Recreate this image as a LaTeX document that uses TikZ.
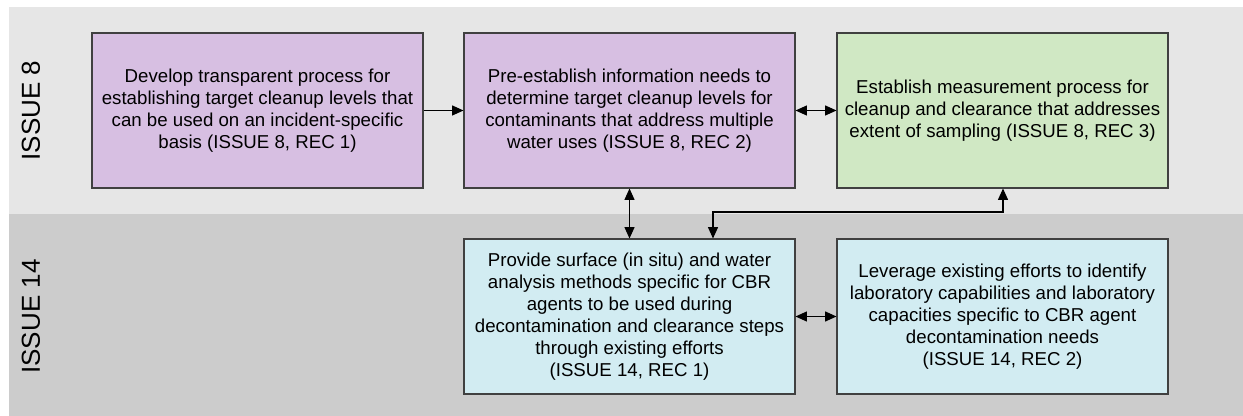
\documentclass[tikz,border=0pt]{standalone}
\usepackage{fontspec}
\setmainfont{Liberation Sans}
\usetikzlibrary{arrows.meta}
\definecolor{bandA}{RGB}{230,230,230}
\definecolor{bandB}{RGB}{204,204,204}
\definecolor{purp}{RGB}{215,191,226}
\definecolor{grn}{RGB}{208,232,196}
\definecolor{blu}{RGB}{210,236,242}
\definecolor{edge}{RGB}{64,64,64}
\tikzset{
  box/.style={draw=edge, line width=0.8pt, minimum width=248.25pt, minimum height=116.25pt,
    inner sep=0pt, align=center, font=\fontsize{14}{16.5}\selectfont},
  lane/.style={font=\fontsize{19.5}{22}\selectfont, rotate=90},
  tip/.tip={Triangle[length=8.5pt,width=7.5pt]},
  arr/.style={line width=0.8pt, -tip},
  darr/.style={line width=0.8pt, tip-tip}
}
\begin{document}
\begin{tikzpicture}[x=0.75pt,y=-0.75pt]
\useasboundingbox (0,0) rectangle (1243,416);
\fill[white] (0,0) rectangle (1243,416);
\fill[bandA] (9,7) rectangle (1243,214);
\fill[bandB] (9,214) rectangle (1243,416);
\node[lane] (l8) at (31,110.5) {ISSUE 8};
\node[lane] (l14) at (31,316.5) {ISSUE 14};
\node[box, fill=purp] (b1) at (257.5,110.5) {Develop transparent process for\\establishing target cleanup levels that\\can be used on an incident-specific\\basis (ISSUE 8, REC 1)};
\node[box, fill=purp] (b2) at (629.5,110.5) {Pre-establish information needs to\\determine target cleanup levels for\\contaminants that address multiple\\water uses (ISSUE 8, REC 2)};
\node[box, fill=grn] (b3) at (1002.5,110.5) {Establish measurement process for\\cleanup and clearance that addresses\\extent of sampling (ISSUE 8, REC 3)};
\node[box, fill=blu] (b4) at (629.5,316.5) {Provide surface (in situ) and water\\analysis methods specific for CBR\\agents to be used during\\decontamination and clearance steps\\through existing efforts\\(ISSUE 14, REC 1)};
\node[box, fill=blu] (b5) at (1002.5,316.5) {Leverage existing efforts to identify\\laboratory capabilities and laboratory\\capacities specific to CBR agent\\decontamination needs\\(ISSUE 14, REC 2)};
\coordinate (k1) at (713,212);
\coordinate (k2) at (1003,212);
\draw[arr] (b1) -- (b2);
\draw[darr] (b2) -- (b3);
\draw[darr] (b2) -- (b4);
\draw[darr] (b4) -- (b5);
\draw[darr] (b4.north -| k1) -- (k1) -- (k2) -- (b3.south -| k2);
\end{tikzpicture}
\end{document}
